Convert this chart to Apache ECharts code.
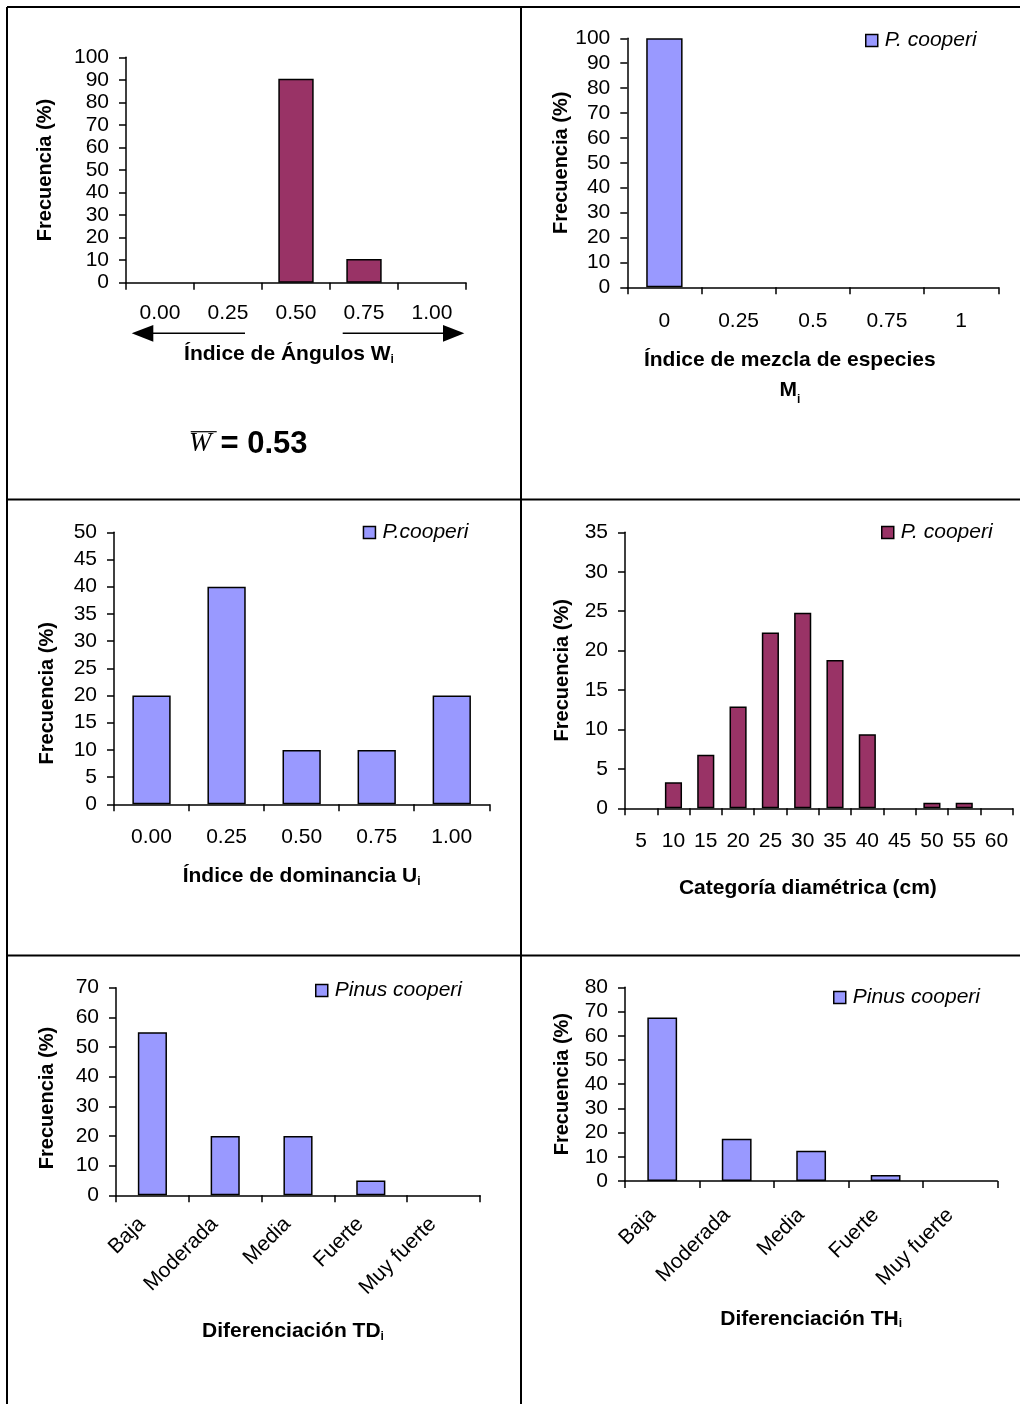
<!DOCTYPE html>
<html>
<head>
<meta charset="utf-8">
<script src="https://cdn.jsdelivr.net/npm/echarts@6/dist/echarts.min.js"></script>
<style>html,body{margin:0;padding:0;background:#fff}#c{width:1020px;height:1404px}</style>
</head>
<body>
<div id="c"></div>
<script>
// ---- data ----
const W_CATS = ['0.00', '0.25', '0.50', '0.75', '1.00'];
const W_VALS = [0, 0, 90.5, 10.5, 0];
const M_CATS = ['0', '0.25', '0.5', '0.75', '1'];
const M_VALS = [100, 0, 0, 0, 0];
const U_CATS = ['0.00', '0.25', '0.50', '0.75', '1.00'];
const U_VALS = [20, 40, 10, 10, 20];
const D_CATS = ['5', '10', '15', '20', '25', '30', '35', '40', '45', '50', '55', '60'];
const D_VALS = [0, 3.3, 6.8, 12.9, 22.3, 24.8, 18.8, 9.4, 0, 0.7, 0.7, 0];
const TD_CATS = ['Baja', 'Moderada', 'Media', 'Fuerte', 'Muy fuerte'];
const TD_VALS = [55, 20, 20, 5, 0];
const TH_CATS = ['Baja', 'Moderada', 'Media', 'Fuerte', 'Muy fuerte'];
const TH_VALS = [67.5, 17.5, 12.5, 2.5, 0];
const Y_MAX = [100, 100, 50, 35, 70, 80];
const Y_STEP = [10, 10, 5, 5, 10, 10];
const W_MEAN = '0.53';

const MAROON = '#993366', BLUE = '#9999FF';
const SANS = 'Liberation Sans';
const TICK_FS = 21, XT_FS = 21, YT_FS = 20, LEG_FS = 21;

const chart = echarts.init(document.getElementById('c'), null, {renderer: 'canvas'});

const grids = [
  {left: 126, top: 57.3, width: 340, height: 225.4},
  {left: 627.3, top: 38.3, width: 371, height: 249},
  {left: 114, top: 532.3, width: 375.3, height: 272},
  {left: 625, top: 532.3, width: 387.7, height: 276},
  {left: 116, top: 987.7, width: 364, height: 207.6},
  {left: 625, top: 987.3, width: 372.3, height: 193.7}
].map(g => Object.assign({outerBoundsMode: 'none'}, g));

const richSub = {s: {fontFamily: SANS, fontWeight: 'bold', fontSize: 12, verticalAlign: 'bottom', color: '#000'}};
function xName(txt, gap, pad, lh) {
  return {
    name: txt, nameLocation: 'middle', nameGap: gap,
    nameTextStyle: {fontFamily: SANS, fontWeight: 'bold', fontSize: XT_FS, color: '#000', padding: pad || 0, lineHeight: lh || 22, rich: richSub}
  };
}
const axisCommon = {
  axisLine: {show: true, lineStyle: {color: '#000', width: 1.5}},
  axisTick: {show: true, length: 7, lineStyle: {color: '#000', width: 1.5}},
  splitLine: {show: false}
};
function xAxis(i, cats, nm, labelExtra) {
  return Object.assign({
    type: 'category', gridIndex: i, data: cats,
    axisLabel: Object.assign({color: '#000', fontFamily: SANS, fontSize: TICK_FS, interval: 0}, labelExtra)
  }, axisCommon, nm);
}
function yAxis(i, gap, pad) {
  return Object.assign({
    type: 'value', gridIndex: i, min: 0, max: Y_MAX[i], interval: Y_STEP[i],
    name: 'Frecuencia (%)', nameLocation: 'middle', nameRotate: 90, nameGap: gap,
    nameTextStyle: {fontFamily: SANS, fontWeight: 'bold', fontSize: YT_FS, color: '#000', padding: pad || 0},
    axisLabel: {color: '#000', fontFamily: SANS, fontSize: TICK_FS, margin: 17}
  }, axisCommon);
}
function bar(i, name, vals, color, width) {
  return {
    type: 'bar', name: name, xAxisIndex: i, yAxisIndex: i, barWidth: width,
    data: vals.map(v => v === 0 ? {value: v, itemStyle: {borderWidth: 0}} : v),
    itemStyle: {color: color, borderColor: '#000', borderWidth: 1.5},
    emphasis: {disabled: true}, animation: false
  };
}
function legend(name, color, left, top) {
  return {
    left: left, top: top, padding: 0, itemWidth: 12, itemHeight: 12, icon: 'rect',
    selectedMode: false,
    data: [{name: name, itemStyle: {color: color, borderColor: '#000', borderWidth: 1.5}}],
    textStyle: {fontFamily: SANS, fontStyle: 'italic', fontSize: LEG_FS, color: '#000', padding: [0, 0, 0, 2]}
  };
}

const rot = (m, p) => ({rotate: 45, margin: m, padding: [0, p, 0, 0]});

const option = {
  animation: false,
  backgroundColor: '#fff',
  grid: grids,
  xAxis: [
    xAxis(0, W_CATS, xName('Índice de Ángulos W{s|i}', 61, [0, 14, 0, 0]), {margin: 20}),
    xAxis(1, M_CATS, xName('Índice de mezcla de especies\nM{s|i}', 58, [0, 46, 0, 0], 30), {margin: 23}),
    xAxis(2, U_CATS, xName('Índice de dominancia U{s|i}', 61), {margin: 22}),
    xAxis(3, D_CATS, xName('Categoría diamétrica (cm)', 69, [0, 22, 0, 0]), {margin: 22}),
    xAxis(4, TD_CATS, xName('Diferenciación TD{s|i}', 125, [0, 10, 0, 0]), rot(15, 15)),
    xAxis(5, TH_CATS, xName('Diferenciación TH{s|i}', 127), rot(21, 14))
  ],
  yAxis: [
    yAxis(0, 71), yAxis(1, 52), yAxis(2, 57, [0, 50, 0, 0]), yAxis(3, 53), yAxis(4, 59, [0, 13, 0, 0]), yAxis(5, 53)
  ],
  legend: [
    legend('P. cooperi', BLUE, 865, 30),
    legend('P.cooperi', BLUE, 362.7, 522),
    legend('P. cooperi', MAROON, 881, 522),
    legend('Pinus cooperi', BLUE, 315, 980),
    legend('Pinus cooperi', BLUE, 833, 987)
  ],
  series: [
    bar(0, 'W', W_VALS, MAROON, '52%'),
    bar(1, 'P. cooperi', M_VALS, BLUE, '49%'),
    bar(2, 'P.cooperi', U_VALS, BLUE, '51%'),
    bar(3, 'P. cooperi', D_VALS, MAROON, '53%'),
    bar(4, 'Pinus cooperi', TD_VALS, BLUE, '40%'),
    bar(5, 'Pinus cooperi', TH_VALS, BLUE, '40%')
  ],
  graphic: [
    // panel borders
    {type: 'line', shape: {x1: 7, y1: 7, x2: 1020, y2: 7}, style: {stroke: '#000', lineWidth: 2}, silent: true},
    {type: 'line', shape: {x1: 7, y1: 7, x2: 7, y2: 1404}, style: {stroke: '#000', lineWidth: 2}, silent: true},
    {type: 'line', shape: {x1: 521, y1: 7, x2: 521, y2: 1404}, style: {stroke: '#000', lineWidth: 2}, silent: true},
    {type: 'line', shape: {x1: 7, y1: 499.5, x2: 1020, y2: 499.5}, style: {stroke: '#000', lineWidth: 2}, silent: true},
    {type: 'line', shape: {x1: 7, y1: 955.5, x2: 1020, y2: 955.5}, style: {stroke: '#000', lineWidth: 2}, silent: true},
    // arrows under the angle index axis
    {type: 'line', shape: {x1: 150, y1: 333.3, x2: 245, y2: 333.3}, style: {stroke: '#000', lineWidth: 1.5}, silent: true},
    {type: 'polygon', shape: {points: [[131.7, 333.3], [153.3, 325], [153.3, 341.7]]}, style: {fill: '#000'}, silent: true},
    {type: 'line', shape: {x1: 342.7, y1: 333.3, x2: 448, y2: 333.3}, style: {stroke: '#000', lineWidth: 1.5}, silent: true},
    {type: 'polygon', shape: {points: [[464.3, 333.3], [443, 325], [443, 341.7]]}, style: {fill: '#000'}, silent: true},
    // mean W
    {type: 'text', x: 189, y: 444, style: {text: 'W', font: 'italic 27px "Liberation Serif"', fill: '#000', align: 'left', verticalAlign: 'middle'}, silent: true},
    {type: 'line', shape: {x1: 190.7, y1: 431.7, x2: 216.7, y2: 431.7}, style: {stroke: '#000', lineWidth: 1.2}, silent: true},
    {type: 'text', x: 220.5, y: 444.5, style: {text: '= ' + W_MEAN, font: 'bold 31px "Liberation Sans"', fill: '#000', align: 'left', verticalAlign: 'middle'}, silent: true}
  ]
};
chart.setOption(option);
</script>
</body>
</html>
